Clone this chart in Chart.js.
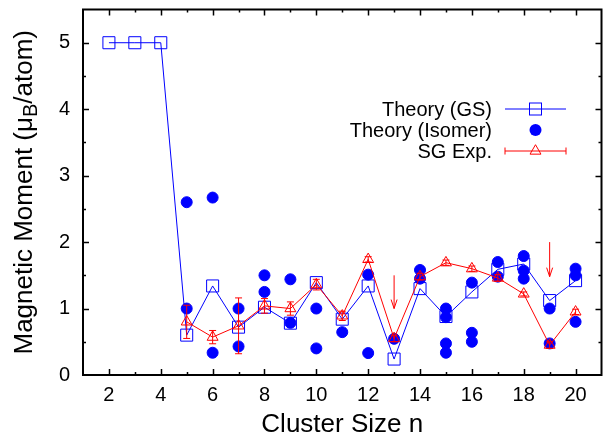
<!DOCTYPE html>
<html>
<head>
<meta charset="utf-8">
<script src="https://cdn.jsdelivr.net/npm/chart.js@4/dist/chart.umd.min.js"></script>
<style>
  html, body { margin: 0; padding: 0; background: #ffffff; }
  canvas { display: block; }
</style>
</head>
<body>
<canvas id="chart" width="611" height="439"></canvas>
<script>
// Ground-state moments from theory, one per cluster size
const clusterSizes = [2, 3, 4, 5, 6, 7, 8, 9, 10, 11, 12, 13, 14, 15, 16, 17, 18, 19, 20];
const gsMoment = [5.00, 5.00, 5.00, 0.60, 1.34, 0.72, 1.02, 0.78, 1.39, 0.84, 1.34, 0.24, 1.30, 0.88, 1.25, 1.59, 1.67, 1.12, 1.42];

// Low-lying isomers from theory
const isomerSizes = [5, 5, 6, 6, 7, 7, 8, 8, 9, 9, 10, 10, 11, 12, 12, 13, 14, 14, 15, 15, 15, 15, 16, 16, 16, 17, 17, 18, 18, 18, 19, 19, 20, 20, 20];
const isomerMoment = [2.60, 1.00, 2.67, 0.335, 1.00, 0.43, 1.50, 1.25, 1.44, 0.785, 1.00, 0.40, 0.645, 1.51, 0.33, 0.545, 1.58, 1.45, 1.00, 0.87, 0.475, 0.335, 1.39, 0.635, 0.50, 1.70, 1.48, 1.79, 1.57, 1.45, 1.00, 0.475, 1.60, 1.50, 0.80];

// Stern-Gerlach experiment with its uncertainty
const expSizes = [5, 6, 7, 8, 9, 10, 11, 12, 13, 14, 15, 16, 17, 18, 19, 20];
const expMoment = [0.80, 0.57, 0.74, 1.04, 1.00, 1.36, 0.89, 1.74, 0.55, 1.48, 1.69, 1.60, 1.46, 1.22, 0.45, 0.95];
const expError = [0.25, 0.10, 0.42, 0.11, 0.10, 0.08, 0.07, 0.04, 0.05, 0.05, 0.04, 0.04, 0.05, 0.03, 0.05, 0.04];

// Marker arrows pointing at selected sizes
const arrowSizes = [13, 19];
const arrowFrom = [1.50, 2.00];
const arrowTo = [1.00, 1.48];

// Axis ticks
const xTickLabels = [2, 4, 6, 8, 10, 12, 14, 16, 18, 20];
const xMinorTicks = [3, 5, 7, 9, 11, 13, 15, 17, 19];
const yTickLabels = [0, 1, 2, 3, 4, 5];
const yMinorTicks = [0.5, 1.5, 2.5, 3.5, 4.5];

const legendLabels = ['Theory (GS)', 'Theory (Isomer)', 'SG Exp.'];

const FONT = '"Liberation Sans", Arial, Helvetica, sans-serif';
const BLUE = '#0000ff';
const RED = '#ff0000';

// Error bars drawn right before the experimental series
const errorBarPlugin = {
  id: 'errorBars',
  beforeDatasetDraw(chart, args) {
    if (args.meta.label !== 'SG Exp.') return;
    const { ctx, scales: { x, y } } = chart;
    ctx.save();
    ctx.strokeStyle = RED;
    ctx.lineWidth = 1;
    expSizes.forEach((n, i) => {
      const px = x.getPixelForValue(n);
      const top = y.getPixelForValue(expMoment[i] + expError[i]);
      const bot = y.getPixelForValue(expMoment[i] - expError[i]);
      ctx.beginPath();
      ctx.moveTo(px, top); ctx.lineTo(px, bot);
      ctx.moveTo(px - 3.5, top); ctx.lineTo(px + 3.5, top);
      ctx.moveTo(px - 3.5, bot); ctx.lineTo(px + 3.5, bot);
      ctx.stroke();
    });
    ctx.restore();
  }
};

// Frame, inward ticks on all four sides, arrows, legend and y title
const decorPlugin = {
  id: 'decor',
  afterDraw(chart) {
    const { ctx, chartArea: a, scales: { x, y } } = chart;
    ctx.save();

    // arrows
    ctx.strokeStyle = RED;
    ctx.lineWidth = 1;
    arrowSizes.forEach((n, i) => {
      const px = x.getPixelForValue(n);
      const y0 = y.getPixelForValue(arrowFrom[i]);
      const y1 = y.getPixelForValue(arrowTo[i]);
      ctx.beginPath();
      ctx.moveTo(px, y0); ctx.lineTo(px, y1);
      ctx.moveTo(px - 3, y1 - 9); ctx.lineTo(px, y1); ctx.lineTo(px + 3, y1 - 9);
      ctx.stroke();
    });

    // ticks
    ctx.strokeStyle = '#000000';
    ctx.lineWidth = 1.5;
    const major = 6, minor = 3;
    ctx.beginPath();
    xTickLabels.concat(xMinorTicks).forEach(v => {
      const len = xTickLabels.includes(v) ? major : minor;
      const px = Math.round(x.getPixelForValue(v)) + 0.5;
      ctx.moveTo(px, a.bottom); ctx.lineTo(px, a.bottom - len);
      ctx.moveTo(px, a.top); ctx.lineTo(px, a.top + len);
    });
    yTickLabels.concat(yMinorTicks).forEach(v => {
      if (v === 0) return;
      const len = yTickLabels.includes(v) ? major : minor;
      const py = Math.round(y.getPixelForValue(v)) + 0.5;
      ctx.moveTo(a.left, py); ctx.lineTo(a.left + len, py);
      ctx.moveTo(a.right, py); ctx.lineTo(a.right - len, py);
    });
    ctx.stroke();

    // frame
    ctx.lineWidth = 2;
    ctx.strokeRect(a.left, a.top, a.right - a.left, a.bottom - a.top);

    // legend
    const rows = [109, 130, 151];
    const textRight = 492, lineL = 505, lineR = 566, mark = 535.5;
    ctx.font = '20px ' + FONT;
    ctx.fillStyle = '#000000';
    ctx.textAlign = 'right';
    ctx.textBaseline = 'middle';
    legendLabels.forEach((t, i) => ctx.fillText(t, textRight, rows[i] + 1));

    ctx.lineWidth = 1;
    ctx.strokeStyle = BLUE;
    ctx.beginPath();
    ctx.moveTo(lineL, rows[0]); ctx.lineTo(lineR, rows[0]);
    ctx.stroke();
    ctx.strokeRect(mark - 6, rows[0] - 6, 12, 12);

    ctx.fillStyle = BLUE;
    ctx.beginPath();
    ctx.arc(mark, rows[1], 6, 0, Math.PI * 2);
    ctx.fill();

    ctx.strokeStyle = RED;
    ctx.beginPath();
    ctx.moveTo(lineL, rows[2]); ctx.lineTo(lineR, rows[2]);
    ctx.moveTo(lineL, rows[2] - 3.5); ctx.lineTo(lineL, rows[2] + 3.5);
    ctx.moveTo(lineR, rows[2] - 3.5); ctx.lineTo(lineR, rows[2] + 3.5);
    ctx.stroke();
    const r = 6.3;
    ctx.beginPath();
    ctx.moveTo(mark, rows[2] - r);
    ctx.lineTo(mark + r * Math.sin(2 * Math.PI / 3), rows[2] + r * 0.5);
    ctx.lineTo(mark - r * Math.sin(2 * Math.PI / 3), rows[2] + r * 0.5);
    ctx.closePath();
    ctx.stroke();

    // y axis title with subscript
    ctx.translate(25, (a.top + a.bottom) / 2);
    ctx.rotate(-Math.PI / 2);
    ctx.fillStyle = '#000000';
    ctx.textAlign = 'left';
    ctx.textBaseline = 'middle';
    const mainFont = '26px ' + FONT, subFont = '20px ' + FONT;
    const p1 = 'Magnetic Moment (\u03bc', p2 = 'B', p3 = '/atom)';
    ctx.font = mainFont; const w1 = ctx.measureText(p1).width, w3 = ctx.measureText(p3).width;
    ctx.font = subFont; const w2 = ctx.measureText(p2).width;
    let sx = -(w1 + w2 + w3) / 2;
    ctx.font = mainFont; ctx.fillText(p1, sx, 0); sx += w1;
    ctx.font = subFont; ctx.fillText(p2, sx, 6); sx += w2;
    ctx.font = mainFont; ctx.fillText(p3, sx, 0);

    ctx.restore();
  }
};

new Chart(document.getElementById('chart'), {
  type: 'line',
  data: {
    datasets: [
      {
        label: 'Theory (GS)',
        data: clusterSizes.map((n, i) => ({ x: n, y: gsMoment[i] })),
        borderColor: BLUE,
        borderWidth: 1,
        pointStyle: 'rect',
        pointRadius: 8.5,
        pointBorderWidth: 1,
        pointBorderColor: BLUE,
        pointBackgroundColor: 'rgba(0,0,0,0)',
        tension: 0,
        order: 3
      },
      {
        label: 'Theory (Isomer)',
        data: isomerSizes.map((n, i) => ({ x: n, y: isomerMoment[i] })),
        showLine: false,
        pointStyle: 'circle',
        pointRadius: 5.5,
        pointBorderWidth: 1,
        pointBorderColor: BLUE,
        pointBackgroundColor: BLUE,
        order: 2
      },
      {
        label: 'SG Exp.',
        data: expSizes.map((n, i) => ({ x: n, y: expMoment[i] })),
        borderColor: RED,
        borderWidth: 1,
        pointStyle: 'triangle',
        pointRadius: 6.3,
        pointBorderWidth: 1,
        pointBorderColor: RED,
        pointBackgroundColor: 'rgba(0,0,0,0)',
        tension: 0,
        order: 1
      }
    ]
  },
  options: {
    responsive: false,
    animation: false,
    devicePixelRatio: 1,
    layout: { padding: { top: 9, right: 1, left: 0, bottom: 0 } },
    plugins: { legend: { display: false }, tooltip: { enabled: false } },
    scales: {
      x: {
        type: 'linear',
        min: 1,
        max: 21,
        afterFit(s) { s.height = 64; s.paddingLeft = 0; s.paddingRight = 0; },
        afterBuildTicks(s) { s.ticks = xTickLabels.map(v => ({ value: v })); },
        grid: { display: false, drawTicks: false },
        border: { display: false },
        ticks: { font: { family: FONT, size: 20 }, color: '#000000', padding: 8, maxRotation: 0, autoSkip: false },
        title: { display: true, text: 'Cluster Size n', color: '#000000', font: { family: FONT, size: 26 }, padding: { top: 0, bottom: -1 } }
      },
      y: {
        type: 'linear',
        min: 0,
        max: 5.5,
        afterFit(s) { s.width = 83; s.paddingTop = 0; s.paddingBottom = 0; },
        afterBuildTicks(s) { s.ticks = yTickLabels.map(v => ({ value: v })); },
        grid: { display: false, drawTicks: false },
        border: { display: false },
        ticks: { font: { family: FONT, size: 20 }, color: '#000000', padding: 13, autoSkip: false }
      }
    }
  },
  plugins: [errorBarPlugin, decorPlugin]
});
</script>
</body>
</html>
